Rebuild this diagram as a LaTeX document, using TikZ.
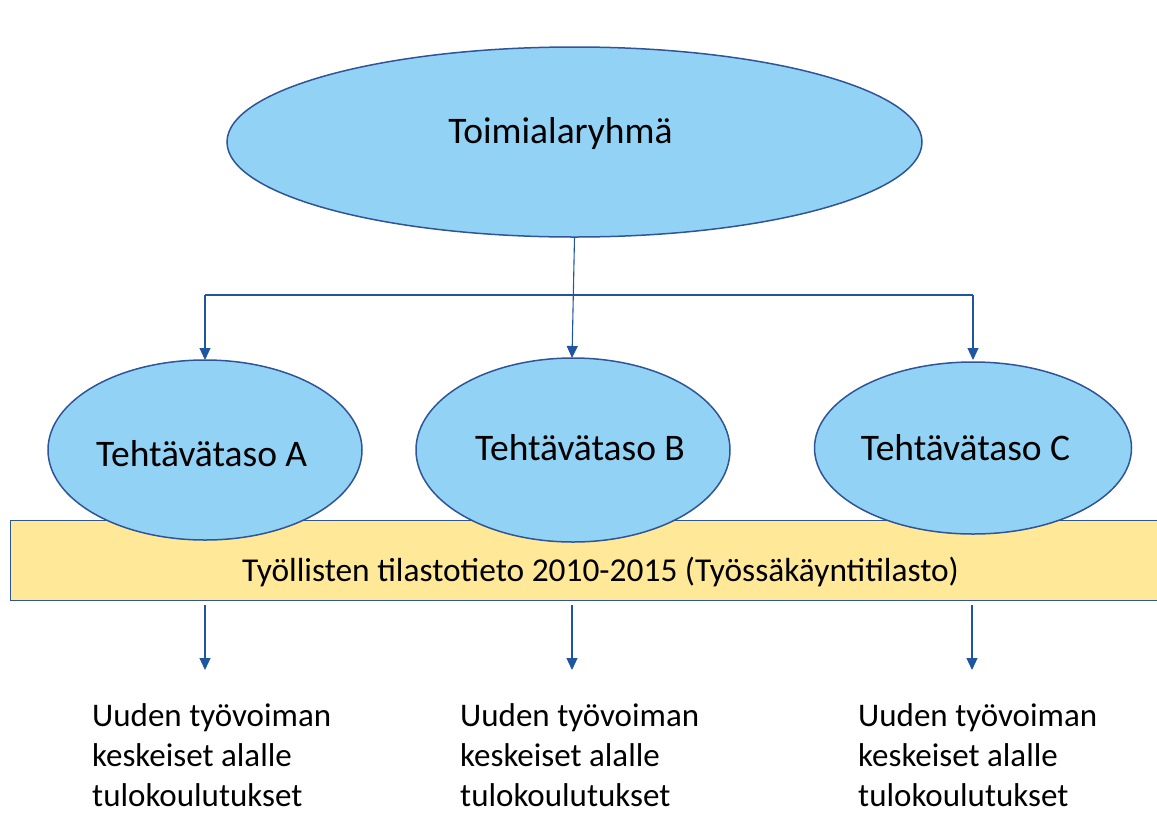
\documentclass[tikz,border=0pt]{standalone}
\usepackage{fontspec}
\setmainfont{Carlito}
\usetikzlibrary{shapes.geometric,arrows.meta}
\definecolor{ellfill}{HTML}{92D3F5}
\definecolor{ellline}{HTML}{2F5597}
\definecolor{boxfill}{HTML}{FFE999}
\definecolor{arrcol}{HTML}{1F56A0}
\tikzset{
  ell/.style={ellipse, draw=ellline, fill=ellfill, line width=1.5pt, inner sep=0pt},
  elltxt/.style={font=\fontsize{37.5}{45}\selectfont, anchor=base, inner sep=0pt},
  conn/.style={draw=arrcol, line width=1.1pt},
  arr/.style={conn, -{Triangle[length=12pt,width=11pt]}},
  outtxt/.style={align=left, font=\fontsize{33}{40}\selectfont, anchor=base west, inner sep=0pt},
}
\begin{document}
\begin{tikzpicture}[x=1pt,y=-1pt]
\useasboundingbox (0,0) rectangle (1157,812);
\clip (0,0) rectangle (1157,812);
% box
\node[draw=ellline, fill=boxfill, line width=1.3pt, minimum width=1150pt, minimum height=80pt, inner sep=0pt, anchor=north west] (box) at (10,520) {};
\node[font=\fontsize{33.4}{40}\selectfont, anchor=base, inner sep=0pt] (boxtxt) at (600.5,581) {Työllisten tilastotieto 2010-2015 (Työssäkäyntitilasto)};
% ellipses
\node[ell, minimum width=695pt, minimum height=190pt] (top) at (574.5,142) {};
\node[elltxt] (toptxt) at (560.5,143) {Toimialaryhmä};
\node[ell, minimum width=314pt, minimum height=180pt] (A) at (205,450) {};
\node[elltxt] (Atxt) at (201.7,466) {Tehtävätaso A};
\node[ell, minimum width=314pt, minimum height=184pt] (B) at (573,450) {};
\node[elltxt] (Btxt) at (580,460) {Tehtävätaso B};
\node[ell, minimum width=317pt, minimum height=172pt] (C) at (973,448) {};
\node[elltxt] (Ctxt) at (965.5,460) {Tehtävätaso C};
% connectors
\coordinate (hl) at (205,295);
\coordinate (hr) at (973,295);
\draw[conn] (hl) -- (hr);
\draw[arr] (top.south) -- (572,358);
\draw[arr] (hl) -- (205,360);
\draw[arr] (hr) -- (973,360);
\coordinate (b1) at (205,605);
\coordinate (b2) at (572,605);
\coordinate (b3) at (972,605);
\draw[arr] (b1) -- ++(0,65) coordinate (e1);
\draw[arr] (b2) -- ++(0,65) coordinate (e2);
\draw[arr] (b3) -- ++(0,65) coordinate (e3);
% outputs
\node[outtxt] (o1) at (92,806) {Uuden työvoiman\\keskeiset alalle\\tulokoulutukset};
\node[outtxt] (o2) at (460,806) {Uuden työvoiman\\keskeiset alalle\\tulokoulutukset};
\node[outtxt] (o3) at (858,806) {Uuden työvoiman\\keskeiset alalle\\tulokoulutukset};
\end{tikzpicture}
\end{document}
